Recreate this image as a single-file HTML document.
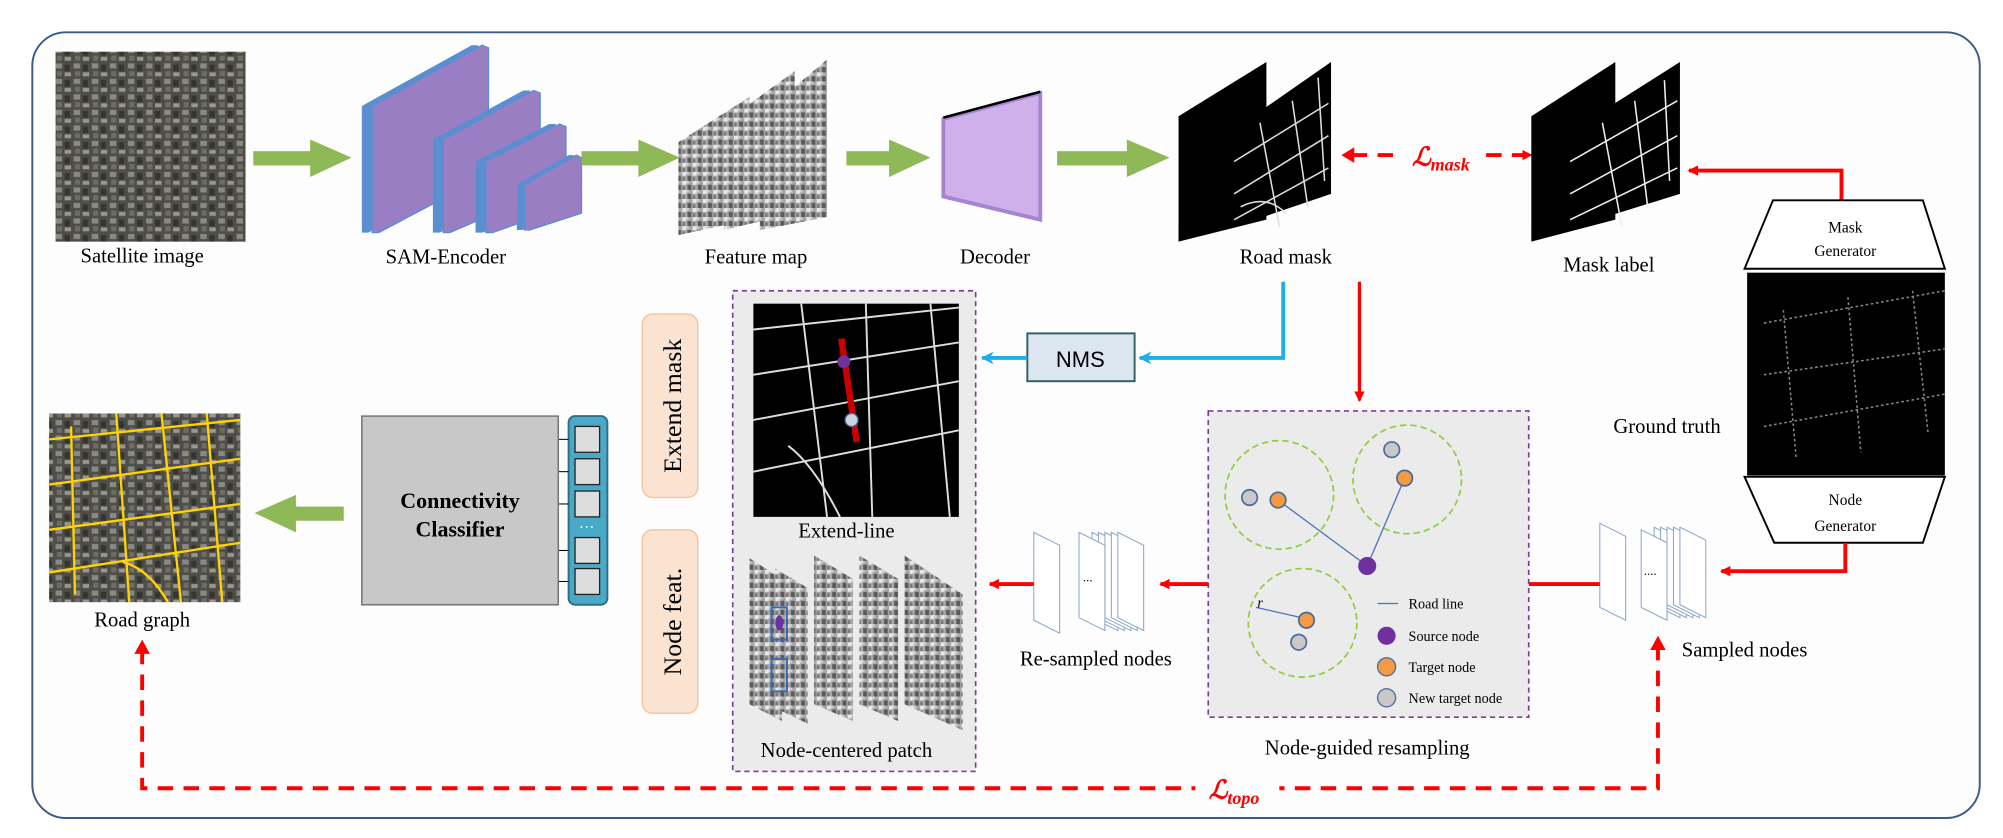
<!DOCTYPE html>
<html><head><meta charset="utf-8"><style>
html,body{margin:0;padding:0;background:#fff;}
svg{display:block;font-family:"Liberation Serif",serif;}
</style></head><body>
<svg width="2003" height="838" viewBox="0 0 1550 648.5" preserveAspectRatio="none" xmlns="http://www.w3.org/2000/svg">
<defs>
<pattern id="sat" width="14" height="12" patternUnits="userSpaceOnUse">
<rect width="14" height="12" fill="#4e4d48"/><rect x="1" y="1" width="5" height="4" fill="#8a8a84"/><rect x="8" y="2" width="4" height="5" fill="#33352f"/><rect x="2" y="7" width="4" height="4" fill="#6f6c62"/><rect x="8" y="8" width="5" height="3" fill="#9a978c"/>
</pattern>
<pattern id="feat" width="8" height="7" patternUnits="userSpaceOnUse">
<rect width="8" height="7" fill="#a8a8a8"/><rect width="3" height="3" fill="#e8e8e8"/><rect x="4" y="3" width="3" height="4" fill="#5a5a5a"/><rect x="3" y="0" width="2" height="2" fill="#cfcfcf"/><rect x="0" y="4" width="2" height="3" fill="#7a7a7a"/>
</pattern>
<marker id="ar" markerWidth="8" markerHeight="8" refX="7" refY="4" orient="auto" markerUnits="userSpaceOnUse"><path d="M0,0 L8,4 L0,8 z" fill="#ff0000"/></marker>
<marker id="ab" markerWidth="10" markerHeight="10" refX="9" refY="5" orient="auto" markerUnits="userSpaceOnUse"><path d="M0,0 L10,5 L0,10 L3,5 z" fill="#1eaee8"/></marker>
</defs>
<rect x="25" y="25" width="1507" height="608" rx="26" fill="#fdfdfd" stroke="#3c5a88" stroke-width="1.5"/>

<rect x="43" y="40" width="147" height="147" fill="url(#sat)"/>
<text x="110" y="203" font-size="16" text-anchor="middle">Satellite image</text>
<g><rect x="196" y="117" width="45" height="11" fill="#8fb856"/><path d="M240,108 L272,122 L240,137 z" fill="#8fb856"/></g>

<g>
<path d="M280,82 L365,35 L370,35 L370,135 L285,180 L280,180 z" fill="#5a8ed0"/>
<path d="M288,82 L373,35 L378,37 L378,135 L293,180 L288,180 z" fill="#9a7ec4" stroke="#5a8ed0" stroke-width="1"/>
<path d="M335,108 L405,70 L410,70 L410,150 L340,180 L335,180 z" fill="#5a8ed0"/>
<path d="M343,108 L413,70 L418,72 L418,150 L348,180 L343,180 z" fill="#9a7ec4" stroke="#5a8ed0" stroke-width="1"/>
<path d="M368,125 L425,96 L430,96 L430,160 L373,180 L368,180 z" fill="#5a8ed0"/>
<path d="M376,125 L433,96 L438,98 L438,160 L381,180 L376,180 z" fill="#9a7ec4" stroke="#5a8ed0" stroke-width="1"/>
<path d="M400,143 L440,120 L444,120 L444,165 L404,178 L400,178 z" fill="#5a8ed0"/>
<path d="M406,143 L446,120 L450,122 L450,165 L410,178 L406,178 z" fill="#9a7ec4" stroke="#5a8ed0" stroke-width="1"/>
</g>
<text x="345" y="204" font-size="16" text-anchor="middle">SAM-Encoder</text>
<g><rect x="450" y="117" width="45" height="11" fill="#8fb856"/><path d="M494,108 L526,122 L494,137 z" fill="#8fb856"/></g>

<g>
<path d="M525,110 L580,75 L580,170 L525,182 z" fill="url(#feat)"/>
<path d="M560,95 L615,55 L615,165 L560,178 z" fill="url(#feat)"/>
<path d="M588,90 L640,46 L640,168 L588,178 z" fill="url(#feat)"/>
</g>
<text x="585" y="204" font-size="16" text-anchor="middle">Feature map</text>
<g><rect x="655" y="117" width="35" height="11" fill="#8fb856"/><path d="M688,108 L720,122 L688,137 z" fill="#8fb856"/></g>

<path d="M730,92 L805,72 L805,170 L730,152 z" fill="#cfb0ea" stroke="#a684d0" stroke-width="3"/>
<line x1="730" y1="91" x2="805" y2="71" stroke="#000" stroke-width="2"/>
<text x="770" y="204" font-size="16" text-anchor="middle">Decoder</text>
<g><rect x="818" y="117" width="55" height="11" fill="#8fb856"/><path d="M872,108 L905,122 L872,137 z" fill="#8fb856"/></g>

<g>
<path d="M912,90 L980,48 L980,170 L912,187 z" fill="#000"/>
<path d="M948,105 L1030,48 L1030,150 L948,178 z" fill="#000"/>
<g stroke="#ddd" stroke-width="1.2" fill="none"><path d="M955,125 L1028,80 M955,150 L1028,105 M955,170 L1028,130 M975,95 L990,175 M1000,78 L1012,160 M1020,60 L1025,140 M960,160 Q980,150 995,165"/></g>
</g>
<text x="995" y="204" font-size="16" text-anchor="middle">Road mask</text>

<g>
<line x1="1046" y1="120" x2="1078" y2="120" stroke="#ff0000" stroke-width="3" stroke-dasharray="12,8"/>
<line x1="1150" y1="120" x2="1185" y2="120" stroke="#ff0000" stroke-width="3" stroke-dasharray="12,8" marker-end="url(#ar)"/>
<path d="M1038,120 L1048,114 L1048,126 z" fill="#ff0000"/>
</g>
<text x="1115" y="128" font-size="20" font-style="italic" font-weight="bold" fill="#ff0000" text-anchor="middle">ℒ<tspan font-size="14" dy="4">mask</tspan></text>

<g>
<path d="M1185,90 L1250,48 L1250,170 L1185,187 z" fill="#000"/>
<path d="M1210,105 L1300,48 L1300,150 L1210,178 z" fill="#000"/>
<g stroke="#eee" stroke-width="1.2" fill="none"><path d="M1215,125 L1298,78 M1215,150 L1298,105 M1215,170 L1298,130 M1240,95 L1255,175 M1265,78 L1275,160 M1288,62 L1292,140"/></g>
</g>
<text x="1245" y="210" font-size="16" text-anchor="middle">Mask label</text>
<path d="M1425,155 L1425,132 L1307,132" stroke="#ff0000" stroke-width="3" fill="none" marker-end="url(#ar)"/>

<path d="M1372,155 L1488,155 L1505,208 L1350,208 z" fill="#fff" stroke="#000" stroke-width="1.5"/>
<text x="1428" y="180" font-size="12" text-anchor="middle">Mask</text><text x="1428" y="198" font-size="12" text-anchor="middle">Generator</text>
<rect x="1352" y="211" width="153" height="157" fill="#000"/>
<g stroke="#888" stroke-width="1.2" stroke-dasharray="2,2" fill="none"><path d="M1365,250 L1505,225 M1365,290 L1505,270 M1365,330 L1505,305 M1380,240 L1390,355 M1430,230 L1440,350 M1480,225 L1492,335"/></g>
<text x="1290" y="335" font-size="16" text-anchor="middle">Ground truth</text>
<path d="M1350,369 L1505,369 L1488,420 L1373,420 z" fill="#fff" stroke="#000" stroke-width="1.5"/>
<text x="1428" y="391" font-size="12" text-anchor="middle">Node</text><text x="1428" y="411" font-size="12" text-anchor="middle">Generator</text>
<path d="M1428,420 L1428,442 L1332,442" stroke="#ff0000" stroke-width="3" fill="none" marker-end="url(#ar)"/>

<g fill="#fff" stroke="#8ea6c8" stroke-width="0.8">
<path d="M1280,408 L1300,418 L1300,478 L1280,468 z"/><path d="M1285,408 L1305,418 L1305,478 L1285,468 z"/><path d="M1290,408 L1310,418 L1310,478 L1290,468 z"/><path d="M1295,408 L1315,418 L1315,478 L1295,468 z"/><path d="M1300,408 L1320,418 L1320,478 L1300,468 z"/>
<path d="M1270,410 L1290,420 L1290,480 L1270,470 z"/>
<path d="M1238,405 L1258,415 L1258,480 L1238,470 z"/>
</g>
<text x="1272" y="445" font-size="10">....</text>
<text x="1350" y="508" font-size="16" text-anchor="middle">Sampled nodes</text>
<line x1="1183" y1="452" x2="1238" y2="452" stroke="#ff0000" stroke-width="3"/>

<path d="M1052,218 L1052,310" stroke="#ff0000" stroke-width="2.5" marker-end="url(#ar)"/>
<rect x="935" y="318" width="248" height="237" fill="#ebebeb" stroke="#7a3fa0" stroke-width="1.3" stroke-dasharray="4,3"/>
<g>
<circle cx="990" cy="383" r="42" fill="none" stroke="#8fcc3e" stroke-width="1.3" stroke-dasharray="5,3"/>
<circle cx="1089" cy="371" r="42" fill="none" stroke="#8fcc3e" stroke-width="1.3" stroke-dasharray="5,3"/>
<circle cx="1008" cy="482" r="42" fill="none" stroke="#8fcc3e" stroke-width="1.3" stroke-dasharray="5,3"/>
<line x1="989" y1="387" x2="1058" y2="438" stroke="#4a72b8"/><line x1="1087" y1="370" x2="1058" y2="438" stroke="#4a72b8"/>
<line x1="972" y1="470" x2="1007" y2="478" stroke="#4a72b8"/>
<text x="973" y="470" font-size="11" font-style="italic">r</text>
<g stroke="#4a6a9a" stroke-width="1.3"><circle cx="967" cy="385" r="6" fill="#c8c8c8"/><circle cx="989" cy="387" r="6" fill="#f39a45"/><circle cx="1077" cy="348" r="6" fill="#c8c8c8"/><circle cx="1087" cy="370" r="6" fill="#f39a45"/><circle cx="1011" cy="480" r="6" fill="#f39a45"/><circle cx="1005" cy="497" r="6" fill="#c8c8c8"/></g>
<circle cx="1058" cy="438" r="7" fill="#7030a0"/>
</g>
<g font-size="11">
<line x1="1066" y1="467" x2="1082" y2="467" stroke="#4a72b8"/><text x="1090" y="471">Road line</text>
<circle cx="1073" cy="492" r="7" fill="#7030a0"/><text x="1090" y="496">Source node</text>
<circle cx="1073" cy="516" r="7" fill="#f39a45" stroke="#4a6a9a"/><text x="1090" y="520">Target node</text>
<circle cx="1073" cy="540" r="7" fill="#c8c8c8" stroke="#4a6a9a"/><text x="1090" y="544">New target node</text>
</g>
<text x="1058" y="584" font-size="16" text-anchor="middle">Node-guided resampling</text>

<path d="M993,218 L993,277 L882,277" stroke="#1eaee8" stroke-width="3" fill="none" marker-end="url(#ab)"/>
<rect x="795" y="258" width="83" height="37" fill="#dce6f0" stroke="#2e5e5e" stroke-width="1.5"/>
<text x="836" y="284" font-size="17" font-family="Liberation Sans, sans-serif" text-anchor="middle">NMS</text>
<line x1="795" y1="277" x2="760" y2="277" stroke="#1eaee8" stroke-width="3" marker-end="url(#ab)"/>

<line x1="935" y1="452" x2="898" y2="452" stroke="#ff0000" stroke-width="3" marker-end="url(#ar)"/>
<g fill="#fff" stroke="#8ea6c8" stroke-width="0.8">
<path d="M845,412 L865,422 L865,488 L845,478 z"/><path d="M850,412 L870,422 L870,488 L850,478 z"/><path d="M855,412 L875,422 L875,488 L855,478 z"/><path d="M860,412 L880,422 L880,488 L860,478 z"/><path d="M865,412 L885,422 L885,488 L865,478 z"/>
<path d="M835,412 L855,422 L855,488 L835,478 z"/>
<path d="M800,412 L820,422 L820,490 L800,480 z"/>
</g>
<text x="838" y="450" font-size="10">...</text>
<text x="848" y="515" font-size="16" text-anchor="middle">Re-sampled nodes</text>
<line x1="800" y1="452" x2="766" y2="452" stroke="#ff0000" stroke-width="3" marker-end="url(#ar)"/>

<rect x="567" y="225" width="188" height="372" fill="#ebebeb" stroke="#7a3fa0" stroke-width="1.3" stroke-dasharray="4,3"/>
<rect x="583" y="235" width="159" height="165" fill="#000"/>
<g stroke="#ddd" stroke-width="1.5" fill="none"><path d="M583,255 L742,238 M583,290 L742,265 M583,325 L742,295 M583,365 L742,333 M620,235 L640,400 M670,235 L675,400 M720,235 L735,400 M610,345 Q630,360 650,400"/></g>
<line x1="651" y1="262" x2="663" y2="342" stroke="#cc0000" stroke-width="5"/>
<circle cx="653" cy="280" r="5" fill="#7030a0"/><circle cx="659" cy="325" r="5" fill="#c8d4e0" stroke="#4a6a9a"/>
<text x="655" y="416" font-size="16" text-anchor="middle">Extend-line</text>
<g>
<path d="M580,432 L605,448 L605,558 L580,545 z" fill="url(#feat)"/>
<path d="M600,440 L625,455 L625,560 L600,548 z" fill="url(#feat)"/>
<path d="M630,430 L660,448 L660,558 L630,545 z" fill="url(#feat)"/>
<path d="M665,430 L695,448 L695,558 L665,545 z" fill="url(#feat)"/>
<path d="M700,430 L745,460 L745,565 L700,545 z" fill="url(#feat)"/>
<rect x="597" y="470" width="12" height="25" fill="none" stroke="#3a6ab0" stroke-width="1.5"/><ellipse cx="603" cy="482" rx="3" ry="6" fill="#7030a0"/>
<rect x="597" y="510" width="12" height="25" fill="none" stroke="#3a6ab0" stroke-width="1.5"/>
</g>
<text x="655" y="586" font-size="16" text-anchor="middle">Node-centered patch</text>

<rect x="497" y="243" width="43" height="142" rx="8" fill="#fbe3d2" stroke="#f5c096"/>
<text x="527" y="314" font-size="20" text-anchor="middle" transform="rotate(-90 527 314)">Extend mask</text>
<rect x="497" y="410" width="43" height="142" rx="8" fill="#fbe3d2" stroke="#f5c096"/>
<text x="527" y="481" font-size="20" text-anchor="middle" transform="rotate(-90 527 481)">Node feat.</text>

<rect x="440" y="322" width="30" height="146" rx="5" fill="#4aa9c6" stroke="#2d6f88" stroke-width="1.5"/>
<g fill="#ddd" stroke="#222" stroke-width="1">
<rect x="445" y="330" width="19" height="20"/><rect x="445" y="355" width="19" height="20"/><rect x="445" y="380" width="19" height="20"/><rect x="445" y="416" width="19" height="20"/><rect x="445" y="440" width="19" height="20"/>
</g>
<text x="454" y="412" font-size="12" text-anchor="middle" fill="#fff">···</text>
<g stroke="#000" stroke-width="0.8" fill="#000">
<line x1="440" y1="340" x2="432" y2="340"/><line x1="440" y1="365" x2="432" y2="365"/><line x1="440" y1="390" x2="432" y2="390"/><line x1="440" y1="426" x2="432" y2="426"/><line x1="440" y1="450" x2="432" y2="450"/>
</g>
<rect x="280" y="322" width="152" height="146" fill="#c8c8c8" stroke="#777" stroke-width="1.2"/>
<text x="356" y="393" font-size="17" font-weight="bold" text-anchor="middle">Connectivity</text>
<text x="356" y="415" font-size="17" font-weight="bold" text-anchor="middle">Classifier</text>
<g><rect x="228" y="392" width="38" height="11" fill="#8fb856"/><path d="M229,383 L197,397 L229,412 z" fill="#8fb856"/></g>

<g>
<rect x="38" y="320" width="148" height="146" fill="url(#sat)"/>
<g stroke="#ffd400" stroke-width="1.8" fill="none"><path d="M38,340 L186,325 M38,375 L186,355 M38,410 L186,390 M38,443 L186,420 M90,320 L100,466 M125,320 L140,466 M160,320 L172,466 M55,330 L58,460 M95,435 Q115,440 130,466"/></g>
</g>
<text x="110" y="485" font-size="16" text-anchor="middle">Road graph</text>

<path d="M110,502 L110,610 L1283,610 L1283,500" stroke="#ff0000" stroke-width="3" fill="none" stroke-dasharray="12,8"/>
<path d="M110,495 L104,506 L116,506 z" fill="#ff0000"/><path d="M1283,492 L1277,503 L1289,503 z" fill="#ff0000"/>
<rect x="925" y="602" width="65" height="20" fill="#fdfdfd"/>
<text x="955" y="618" font-size="20" font-style="italic" font-weight="bold" fill="#ff0000" text-anchor="middle">ℒ<tspan font-size="14" dy="4">topo</tspan></text>
</svg>
</body></html>
